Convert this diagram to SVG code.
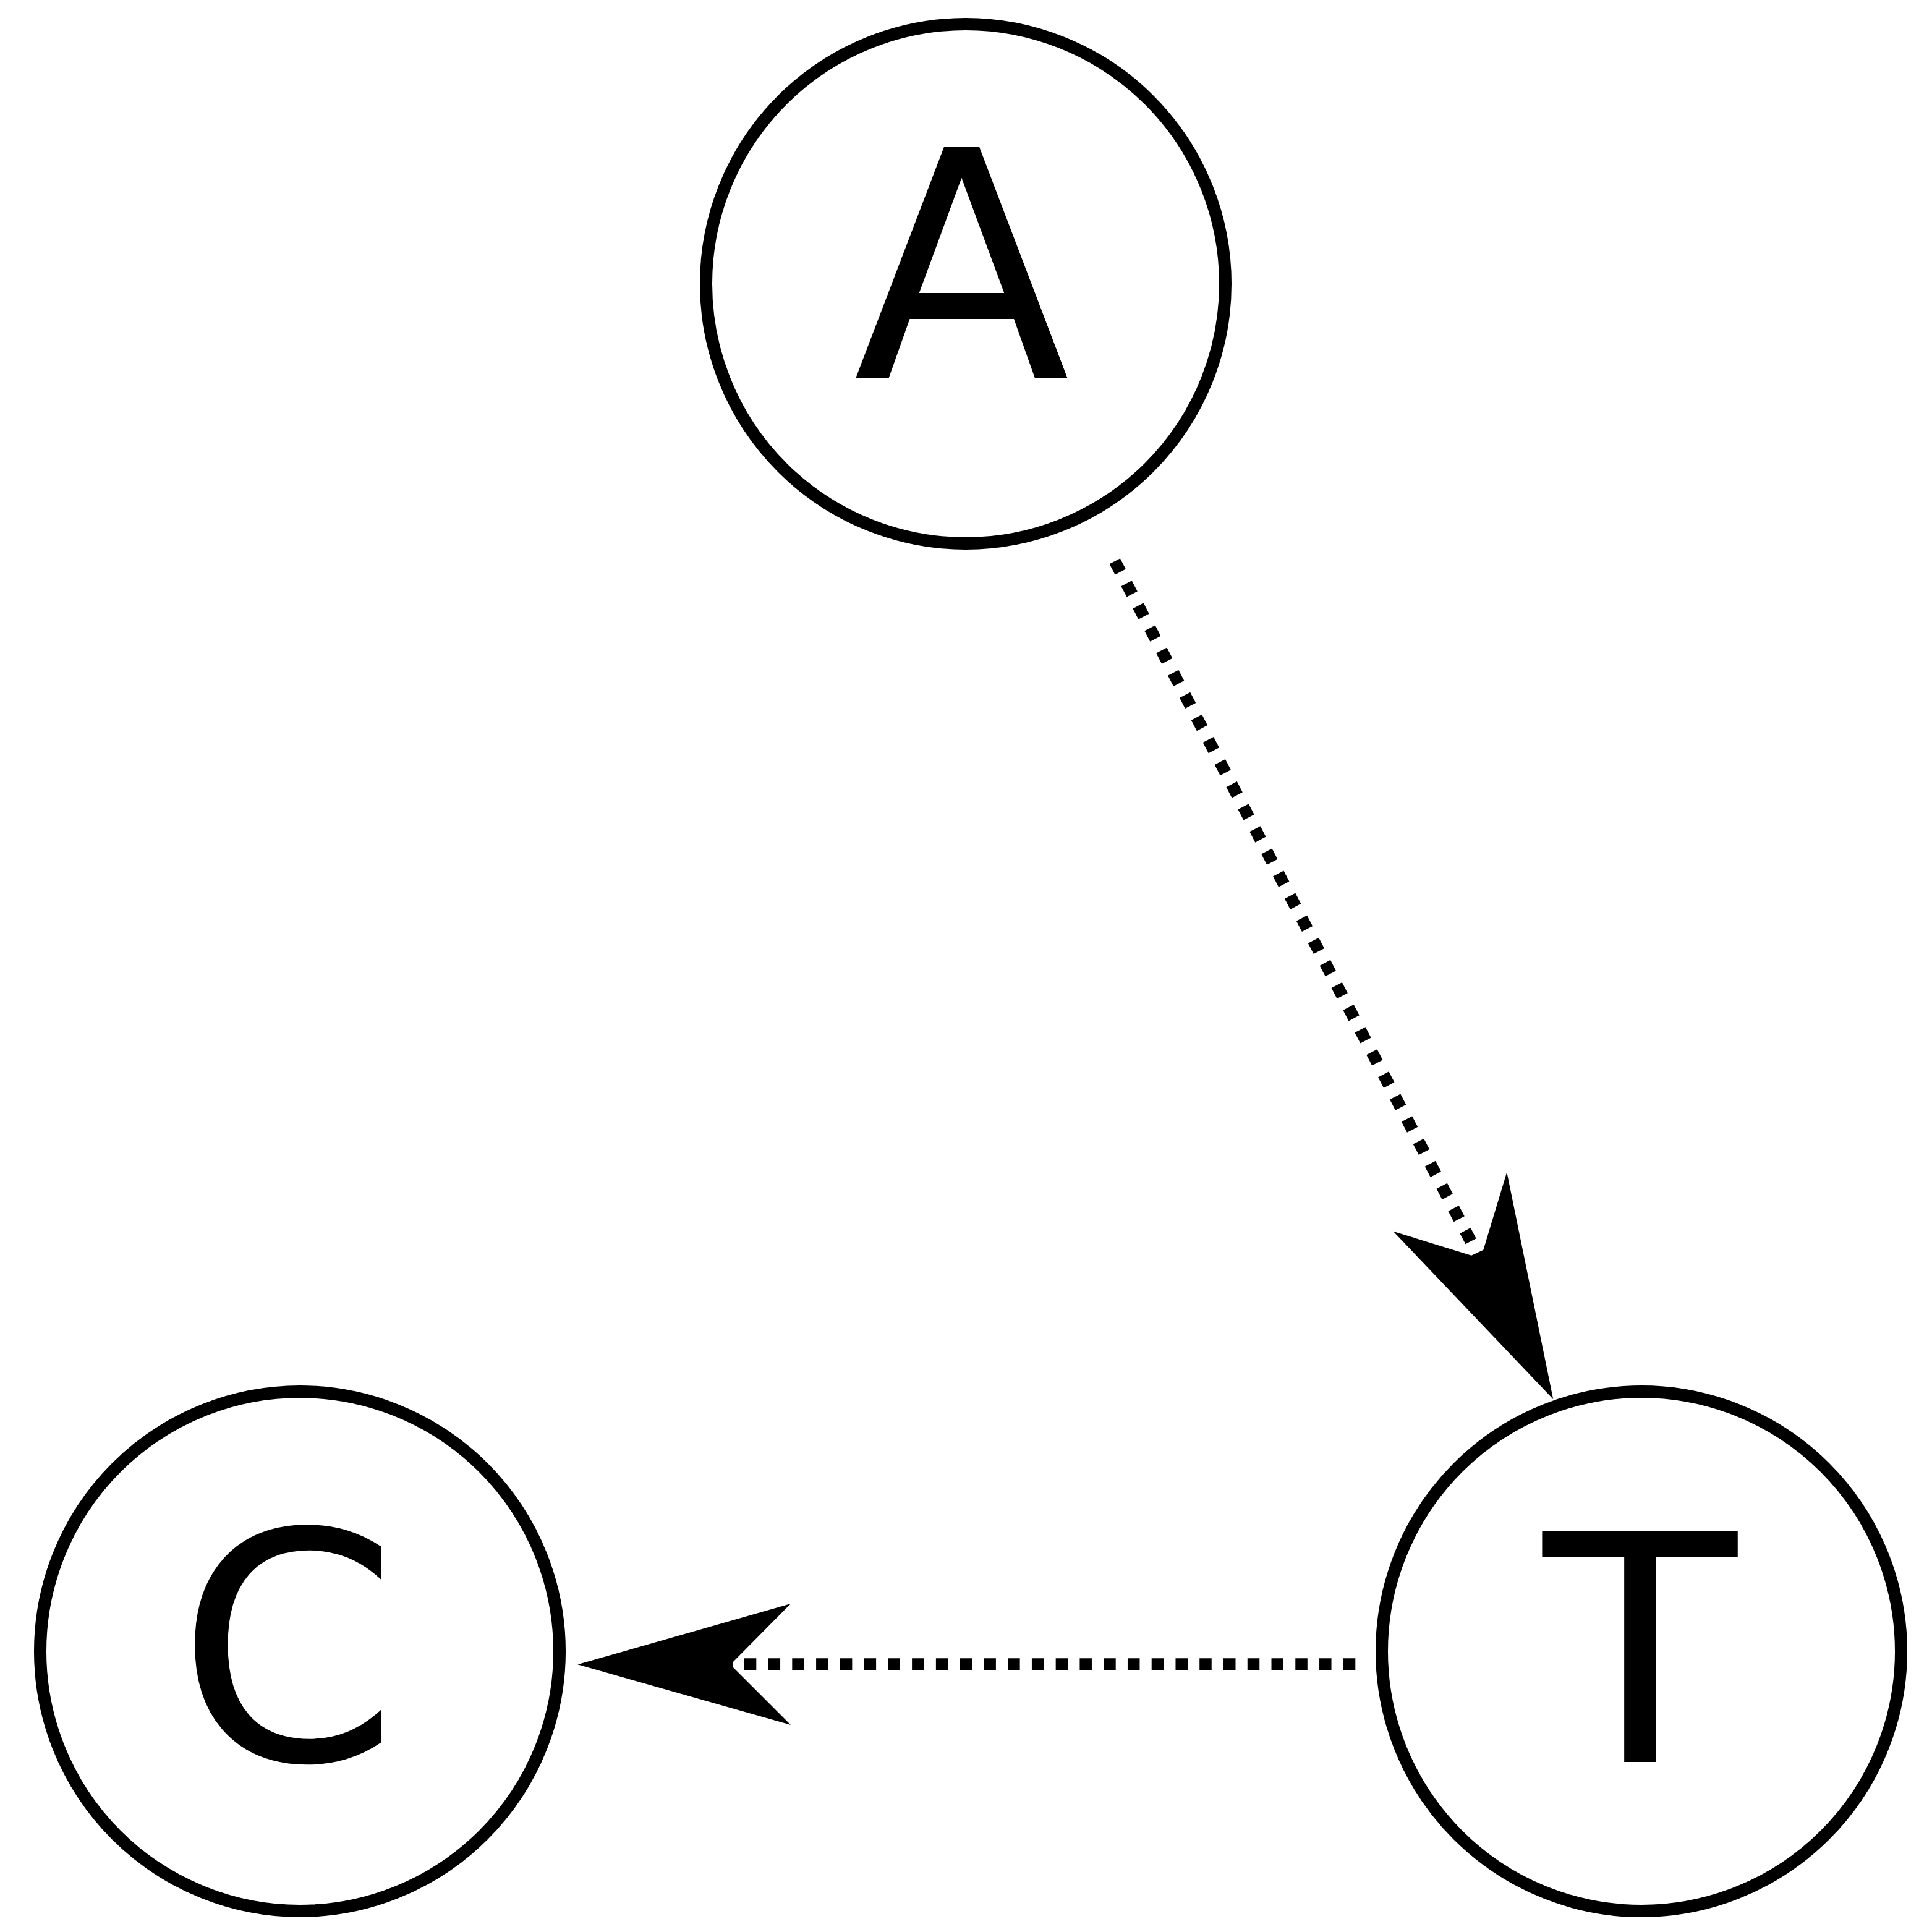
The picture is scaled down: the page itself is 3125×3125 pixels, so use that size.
<svg xmlns="http://www.w3.org/2000/svg" width="3125" height="3125" viewBox="0 0 3125 3125">
  <style>
    .node circle { fill: #ffffff; stroke: #000000; stroke-width: 20; }
    .node text { font-family: "DejaVu Sans", "Liberation Sans", sans-serif; font-size: 513px; fill: #000000; text-anchor: middle; }
    .edge line { stroke: #000000; stroke-width: 19.5; stroke-linecap: butt; fill: none; }
    .edge polygon { fill: #000000; stroke: none; }
  </style>
  <rect x="0" y="0" width="3125" height="3125" fill="#ffffff"/>

  <!-- connectors -->
  <g id="edges">
    <g id="edge-A-T" class="edge">
      <line x1="1803.2" y1="907.7" x2="2379.1" y2="2007.9" stroke-dasharray="19.5 21.24"/>
      <polygon points="2512.3,2263.3 2437.3,1896 2399.3,2021.7 2380,2030.7 2253.6,1991.7"/>
    </g>
    <g id="edge-T-C" class="edge">
      <line x1="2192.3" y1="2692" x2="1203.8" y2="2692" stroke-dasharray="19.5 19.26"/>
      <polygon points="934.3,2692.3 1279,2594 1185.7,2688.3 1185.7,2696.7 1279,2790"/>
    </g>
  </g>

  <!-- nodes -->
  <g id="node-A" class="node">
    <circle cx="1562" cy="459" r="420"/>
    <text x="1555.5" y="612">A</text>
  </g>
  <g id="node-C" class="node">
    <circle cx="485" cy="2671" r="420"/>
    <text x="465.5" y="2847">C</text>
  </g>
  <g id="node-T" class="node">
    <circle cx="2655" cy="2671" r="420"/>
    <text x="2652.6" y="2850">T</text>
  </g>
</svg>
